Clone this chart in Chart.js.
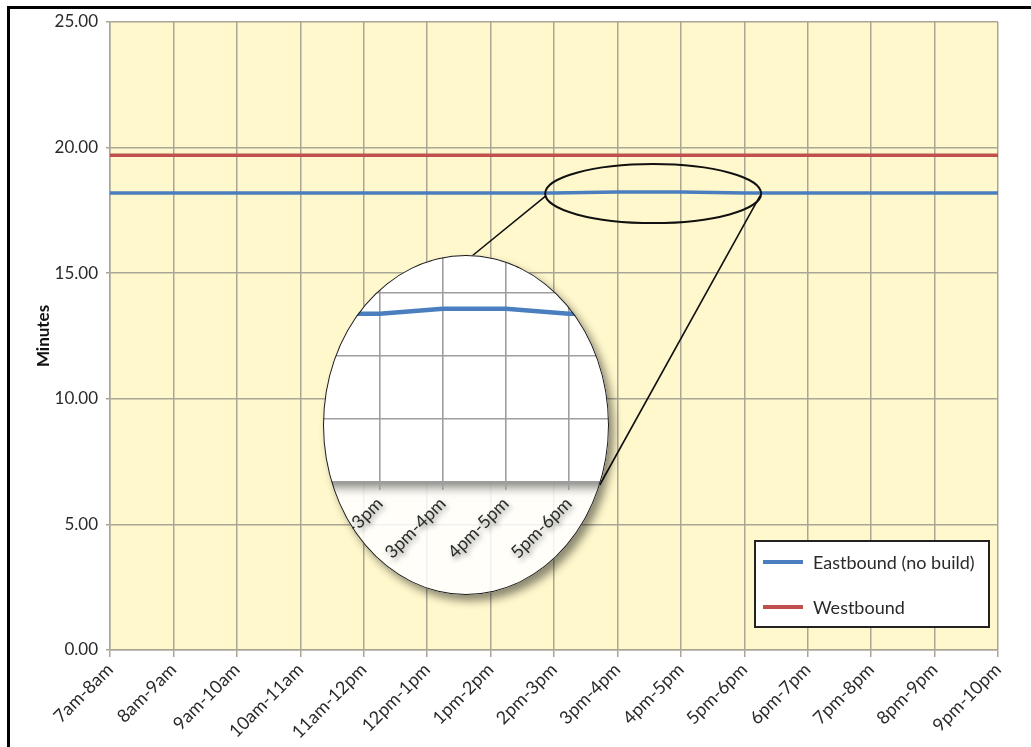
<!DOCTYPE html>
<html><head><meta charset="utf-8">
<script src="https://cdn.jsdelivr.net/npm/chart.js@4.4.1/dist/chart.umd.min.js"></script>
<style>
html,body{margin:0;padding:0;background:#fff;overflow:hidden;}
#wrap{position:relative;width:1031px;height:747px;}
#main{position:absolute;left:0;top:0;}
#frame{position:absolute;left:7px;top:6px;width:1030px;height:760px;border-left:3px solid #000;border-top:3px solid #000;pointer-events:none;}
#lensShadow,#lensRing{position:absolute;border-radius:50%;box-sizing:border-box;pointer-events:none;}
#lensShadow{box-shadow:5px 6px 9px rgba(0,0,0,0.45);}
#lensRing{border:1.6px solid #1a1a1a;}
#insetBox{position:absolute;}
#inset{display:block;}
</style></head>
<body><div id="wrap">
<canvas id="main" width="1031" height="747"></canvas>
<div id="lensShadow"></div>
<div id="insetBox"><canvas id="inset" width="420" height="360"></canvas></div>
<div id="lensRing"></div>
<div id="frame"></div>
</div>
<script>
// ---- data ----
const categories = ['7am-8am','8am-9am','9am-10am','10am-11am','11am-12pm','12pm-1pm','1pm-2pm','2pm-3pm','3pm-4pm','4pm-5pm','5pm-6pm','6pm-7pm','7pm-8pm','8pm-9pm','9pm-10pm'];
const eastbound = [18.19,18.19,18.19,18.19,18.19,18.19,18.19,18.19,18.23,18.23,18.19,18.19,18.19,18.19,18.19];
const westbound = [19.70,19.70,19.70,19.70,19.70,19.70,19.70,19.70,19.70,19.70,19.70,19.70,19.70,19.70,19.70];
const seriesNames = ['Eastbound (no build)','Westbound'];
const yTickValues = [0,5,10,15,20,25];
// magnified view (inset)
const insetFirst = '1pm-2pm';
const insetLast = '6pm-7pm';
const insetYTicks = [16.86,17.36,17.86,18.36];
const insetYMax = 18.75;

// ---- styles ----
const FONT = 'Lato, "Open Sans", sans-serif';
const TEXT = '#2a2a2a';
const GRID = '#aaa696';
const PLOT_BG = '#fff8cc';
const BLUE = '#4a7ebf';
const RED = '#c0504d';
const LENS = {cx:466, cy:425, rx:143, ry:170};
const INSET = {left:230, top:240, w:420, h:360};

// place the lens elements
(function(){
  const sh = document.getElementById('lensShadow');
  const ring = document.getElementById('lensRing');
  [sh, ring].forEach(el=>{
    el.style.left = (LENS.cx-LENS.rx)+'px'; el.style.top = (LENS.cy-LENS.ry)+'px';
    el.style.width = (2*LENS.rx)+'px'; el.style.height = (2*LENS.ry)+'px';
  });
  const box = document.getElementById('insetBox');
  box.style.left = INSET.left+'px'; box.style.top = INSET.top+'px';
  box.style.width = INSET.w+'px'; box.style.height = INSET.h+'px';
  box.style.clipPath = `ellipse(${LENS.rx}px ${LENS.ry}px at ${LENS.cx-INSET.left}px ${LENS.cy-INSET.top}px)`;
})();

const plotBg = { id:'plotBg', beforeDraw(chart){
  const {ctx, chartArea:a} = chart;
  ctx.save(); ctx.fillStyle = PLOT_BG;
  ctx.fillRect(a.left, a.top, a.right-a.left, a.bottom-a.top);
  ctx.restore();
}};

const boxLegend = { id:'boxLegend', afterDraw(chart){
  const {ctx, chartArea:a} = chart;
  const w = 234, h = 86;
  const x = a.right - 9 - w, y = a.bottom - 23 - h;
  ctx.save();
  ctx.fillStyle = '#fff'; ctx.fillRect(x, y, w, h);
  ctx.lineWidth = 2; ctx.strokeStyle = '#222'; ctx.strokeRect(x, y, w, h);
  ctx.font = '18px ' + FONT; ctx.textBaseline = 'middle'; ctx.textAlign = 'left';
  chart.data.datasets.forEach((ds, i) => {
    const yy = y + 21 + i*45;
    ctx.strokeStyle = ds.borderColor; ctx.lineWidth = 4;
    ctx.beginPath(); ctx.moveTo(x+8, yy); ctx.lineTo(x+48, yy); ctx.stroke();
    ctx.fillStyle = TEXT; ctx.fillText(ds.label, x+58, yy+1);
  });
  ctx.restore();
}};

const lensMark = { id:'lensMark', afterDatasetsDraw(chart){
  const {ctx, scales:{x, y}} = chart;
  const i0 = categories.indexOf('3pm-4pm'), i1 = categories.indexOf('4pm-5pm');
  const cx = (x.getPixelForValue(i0) + x.getPixelForValue(i1))/2 + 4;
  const cy = y.getPixelForValue(eastbound[i0]) + 1.5;
  const rx = 108, ry = 29.5;
  ctx.save();
  ctx.strokeStyle = '#111'; ctx.lineWidth = 2;
  ctx.beginPath(); ctx.ellipse(cx, cy, rx, ry, 0, 0, Math.PI*2); ctx.stroke();
  ctx.lineWidth = 1.6;
  const yb = 482;
  const dx = LENS.rx*Math.sqrt(1 - Math.pow((yb-LENS.cy)/LENS.ry, 2));
  ctx.beginPath();
  ctx.moveTo(cx-rx+1, cy+2); ctx.lineTo(LENS.cx+6, LENS.cy-LENS.ry+1);
  ctx.moveTo(cx+rx-1, cy+2); ctx.lineTo(LENS.cx+dx-1, yb+3);
  ctx.stroke();
  ctx.restore();
}};

const mkDatasets = (w) => [
  {label: seriesNames[0], data: eastbound, borderColor: BLUE, backgroundColor: BLUE, borderWidth: w, pointRadius: 0, tension: 0},
  {label: seriesNames[1], data: westbound, borderColor: RED, backgroundColor: RED, borderWidth: w, pointRadius: 0, tension: 0}
];

new Chart(document.getElementById('main'), {
  type: 'line',
  data: { labels: categories, datasets: mkDatasets(3.5) },
  options: {
    responsive: false, animation: false, devicePixelRatio: 1,
    layout: { padding: {top: 22, right: 33, left: 0, bottom: 0} },
    plugins: { legend: {display: false}, tooltip: {enabled: false} },
    scales: {
      x: {
        type: 'category', offset: false,
        grid: {color: GRID, lineWidth: 1.5, tickLength: 7},
        border: {color: GRID, width: 1.5},
        ticks: {color: TEXT, font: {family: FONT, size: 18}, minRotation: 45, maxRotation: 45, autoSkip: false, padding: 2},
        afterFit(s){ s.height = 97; }
      },
      y: {
        min: 0, max: 25,
        afterBuildTicks(s){ s.ticks = yTickValues.map(v => ({value: v})); },
        ticks: {color: TEXT, font: {family: FONT, size: 17}, padding: 8, callback: v => Number(v).toFixed(2)},
        grid: {color: GRID, lineWidth: 1.5, tickLength: 4},
        border: {color: GRID, width: 1.5},
        title: {display: true, text: 'Minutes', color: '#111', font: {family: FONT, size: 17, weight: 'bold'}, padding: {top: 33, bottom: 0}},
        afterFit(s){ s.width = 110; }
      }
    }
  },
  plugins: [plotBg, lensMark, boxLegend]
});

// ---- magnified inset ----
const insetBg = { id:'insetBg',
  beforeDraw(chart){
    const {ctx, chartArea:a, width, height} = chart;
    ctx.save();
    ctx.fillStyle = 'rgba(255,255,255,0.86)';
    ctx.fillRect(0, 0, width, height);
    ctx.shadowColor = 'rgba(0,0,0,0.5)'; ctx.shadowBlur = 10; ctx.shadowOffsetY = 5;
    ctx.fillStyle = '#fff';
    ctx.fillRect(0, 0, width, a.bottom);
    ctx.restore();
  },
  afterDatasetsDraw(chart){
    const ctx = chart.ctx;
    ctx.shadowColor = 'rgba(0,0,0,0.45)'; ctx.shadowBlur = 5; ctx.shadowOffsetX = 2; ctx.shadowOffsetY = 3;
  },
  afterDraw(chart){
    const ctx = chart.ctx;
    ctx.shadowColor = 'rgba(0,0,0,0)'; ctx.shadowBlur = 0; ctx.shadowOffsetX = 0; ctx.shadowOffsetY = 0;
  }
};

new Chart(document.getElementById('inset'), {
  type: 'line',
  data: { labels: categories, datasets: mkDatasets(4.5) },
  options: {
    responsive: false, animation: false, devicePixelRatio: 1,
    layout: { padding: {top: 3, right: 16, left: 0, bottom: 0} },
    plugins: { legend: {display: false}, tooltip: {enabled: false} },
    scales: {
      x: {
        type: 'category', offset: false, min: insetFirst, max: insetLast,
        grid: {color: '#9e9e9e', lineWidth: 1.6, tickLength: 8},
        border: {display: false},
        ticks: {color: TEXT, font: {family: FONT, size: 18}, minRotation: 45, maxRotation: 45, autoSkip: false, padding: 3, z: 1},
        afterFit(s){ s.height = 118; }
      },
      y: {
        min: insetYTicks[0], max: insetYMax,
        afterBuildTicks(s){ s.ticks = insetYTicks.map(v => ({value: v})); },
        ticks: {display: false},
        grid: {color: '#9e9e9e', lineWidth: 1.6, drawTicks: false},
        border: {display: false},
        afterFit(s){ s.width = 87; }
      }
    }
  },
  plugins: [insetBg]
});
</script>
</body></html>
